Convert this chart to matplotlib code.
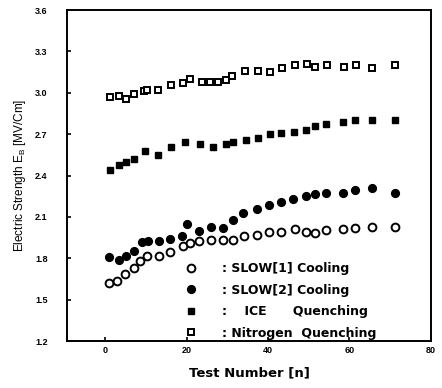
import numpy as np
import matplotlib
matplotlib.use("Agg")
import matplotlib.pyplot as plt

plt.rcParams['font.family'] = ['Liberation Sans', 'DejaVu Sans']

# test number / electric strength (MV/cm)
n_slow1 = [1, 3, 5, 7, 8.6, 10.4, 13.3, 15.9, 19.2, 20.8, 23.1, 26.1, 29, 31.3,
           34.1, 37.2, 40.3, 43.3, 46.6, 49.4, 51.5, 54.3, 58.4, 61.3, 65.5, 71.1]
e_slow1 = [1.62, 1.635, 1.685, 1.73, 1.78, 1.815, 1.82, 1.845, 1.89, 1.91, 1.925, 1.93, 1.935, 1.935,
           1.96, 1.97, 1.99, 1.99, 2.015, 1.99, 1.98, 2.005, 2.01, 2.02, 2.025, 2.025]

n_slow2 = [1, 3.3, 5.1, 7.1, 9, 10.6, 13.3, 15.9, 19, 20, 23.1, 26.1, 29, 31.3,
           33.9, 37.2, 40.3, 43.3, 46.2, 49.4, 51.5, 54.3, 58.4, 61.3, 65.5, 71.1]
e_slow2 = [1.81, 1.785, 1.815, 1.855, 1.92, 1.925, 1.925, 1.94, 1.96, 2.05, 2.0, 2.025, 2.02, 2.08,
           2.13, 2.16, 2.185, 2.21, 2.23, 2.25, 2.265, 2.275, 2.275, 2.295, 2.31, 2.275]

n_ice = [1.1, 3.3, 5.1, 7.1, 9.8, 13.1, 16.3, 19.6, 23.3, 26.5, 29.6, 31.4,
         34.5, 37.6, 40.5, 43.3, 46.4, 49.4, 51.5, 54.3, 58.4, 61.4, 65.5, 71.1]
e_ice = [2.44, 2.48, 2.50, 2.52, 2.575, 2.55, 2.61, 2.645, 2.63, 2.61, 2.63, 2.64,
         2.66, 2.67, 2.705, 2.71, 2.718, 2.733, 2.762, 2.775, 2.79, 2.80, 2.80, 2.80]

n_nitro = [1.1, 3.3, 5.1, 7.1, 9.6, 10.4, 13.1, 16.3, 19.2, 20.8, 23.7, 25.7, 27.8, 29.8,
           31.2, 34.3, 37.6, 40.6, 43.5, 46.6, 49.6, 51.6, 54.6, 58.7, 61.6, 65.5, 71.1]
e_nitro = [2.97, 2.98, 2.955, 2.995, 3.01, 3.02, 3.02, 3.06, 3.07, 3.10, 3.08, 3.08, 3.08, 3.09,
           3.125, 3.16, 3.16, 3.15, 3.18, 3.20, 3.21, 3.19, 3.20, 3.19, 3.205, 3.18, 3.20]

labels = [': SLOW[1] Cooling', ': SLOW[2] Cooling',
          ':    ICE      Quenching', ': Nitrogen  Quenching']

fig = plt.figure(figsize=(4.42, 3.88), dpi=100)
ax = fig.add_axes([0.152, 0.121, 0.823, 0.853])

ms = 5.6
ax.plot(n_slow1, e_slow1, 'o', ms=ms, mfc='white', mec='black', mew=1.4, label=labels[0])
ax.plot(n_slow2, e_slow2, 'o', ms=ms, mfc='black', mec='black', mew=1.0, label=labels[1])
ax.plot(n_ice, e_ice, 's', ms=ms - 0.6, mfc='black', mec='black', mew=1.0, label=labels[2])
ax.plot(n_nitro, e_nitro, 's', ms=ms - 0.6, mfc='white', mec='black', mew=1.4, label=labels[3])

ax.set_xlim(-9.3, 80)
ax.set_ylim(1.2, 3.6)
ax.set_xticks([0, 20, 40, 60, 80])
ax.set_yticks(np.arange(1.2, 3.61, 0.3))
ax.set_yticklabels(['%.1f' % v for v in np.arange(1.2, 3.61, 0.3)])
ax.tick_params(direction='in', length=3, width=1.2, labelsize=6.5)
ax.tick_params(axis='y', pad=14)
for lab in ax.get_xticklabels() + ax.get_yticklabels():
    lab.set_fontweight('bold')
for sp in ax.spines.values():
    sp.set_linewidth(1.4)

ax.set_xlabel('Test Number [n]', fontsize=9.5, fontweight='bold', family='DejaVu Sans', labelpad=8)
ax.set_ylabel('Electric Strength E$_\\mathregular{B}$ [MV/Cm]', fontsize=8.5, labelpad=5)

ax.legend(loc='lower left', bbox_to_anchor=(0.285, -0.018), frameon=False,
          prop={'weight': 'bold', 'size': 9, 'family': 'DejaVu Sans'},
          handletextpad=1.5, labelspacing=0.68, borderaxespad=0.2)

fig.savefig('out.png', dpi=100)
